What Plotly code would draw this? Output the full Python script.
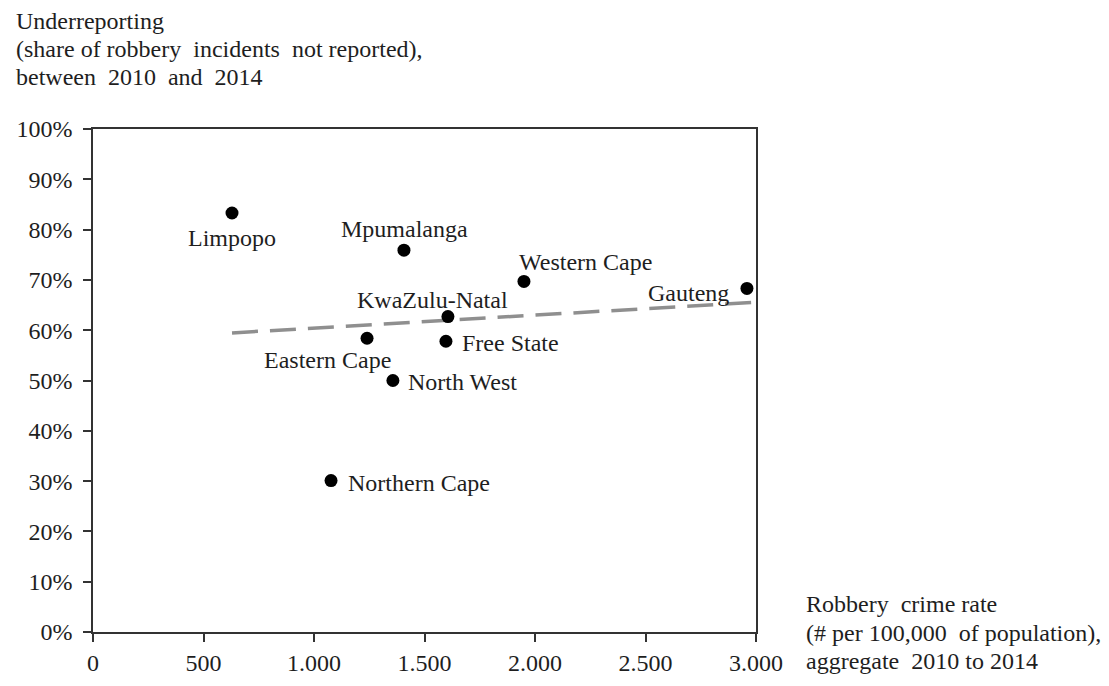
import numpy as np
import plotly.graph_objects as go

provinces = ["Limpopo", "Mpumalanga", "Western Cape", "Gauteng", "KwaZulu-Natal",
             "Eastern Cape", "Free State", "North West", "Northern Cape"]
robbery_rate = [629, 1407, 1950, 2959, 1606, 1240, 1597, 1357, 1077]
underreporting = [0.833, 0.759, 0.697, 0.683, 0.627, 0.584, 0.578, 0.500, 0.301]

x_ticks = [0, 500, 1000, 1500, 2000, 2500, 3000]
x_tick_labels = ["0", "500", "1.000", "1.500", "2.000", "2.500", "3.000"]
y_ticks = [0, 0.1, 0.2, 0.3, 0.4, 0.5, 0.6, 0.7, 0.8, 0.9, 1.0]
y_tick_labels = ["0%", "10%", "20%", "30%", "40%", "50%", "60%", "70%", "80%", "90%", "100%"]

y_title_lines = ["Underreporting",
                 "(share of robbery  incidents  not reported),",
                 "between  2010  and  2014"]
x_title_lines = ["Robbery  crime rate",
                 "(# per 100,000  of population),",
                 "aggregate  2010 to 2014"]

FONT = "Liberation Serif"
TXT = "#1e1e1e"
SIZE = 24

# label placement: (xanchor, yanchor, xshift, yshift)
label_pos = {
    "Limpopo": ("center", "top", 0, -10),
    "Mpumalanga": ("center", "bottom", 1, 6),
    "Western Cape": ("left", "bottom", -7, 4),
    "Gauteng": ("right", "middle", -16, -5),
    "KwaZulu-Natal": ("center", "bottom", -15, 2),
    "Eastern Cape": ("center", "top", -40, -7),
    "Free State": ("left", "middle", 14, -2),
    "North West": ("left", "middle", 13, -1),
    "Northern Cape": ("left", "middle", 15, -2),
}

fig = go.Figure()

# linear trend
coef = np.polyfit(robbery_rate, underreporting, 1)
tx = np.array([min(robbery_rate), 3000])
fig.add_trace(go.Scatter(
    x=tx, y=np.polyval(coef, tx), mode="lines",
    line=dict(color="#8f8f8f", width=3.5, dash="26px,12px"),
    hoverinfo="skip", showlegend=False))

fig.add_trace(go.Scatter(
    x=robbery_rate, y=underreporting, mode="markers",
    marker=dict(color="black", size=13),
    text=provinces, showlegend=False))

for name, xv, yv in zip(provinces, robbery_rate, underreporting):
    xa, ya, xs, ys = label_pos[name]
    fig.add_annotation(x=xv, y=yv, xref="x", yref="y", text=name, showarrow=False,
                       xanchor=xa, yanchor=ya, xshift=xs, yshift=ys,
                       font=dict(family=FONT, size=SIZE, color=TXT))

for line, yp in zip(y_title_lines, [1.214, 1.159, 1.104]):
    fig.add_annotation(xref="paper", yref="paper", x=-0.119, y=yp, xanchor="left", yanchor="middle",
                       showarrow=False, text=line, font=dict(family=FONT, size=SIZE, color=TXT))
for line, yp in zip(x_title_lines, [0.055, -0.002, -0.058]):
    fig.add_annotation(xref="paper", yref="paper", x=1.072, y=yp, xanchor="left", yanchor="middle",
                       showarrow=False, text=line, font=dict(family=FONT, size=SIZE, color=TXT))

fig.update_layout(
    width=1109, height=686,
    margin=dict(l=85, r=361, t=121, b=62),
    paper_bgcolor="white", plot_bgcolor="white",
    font=dict(family=FONT, size=SIZE, color=TXT),
    xaxis=dict(range=[0, 3000], tickvals=x_ticks, ticktext=x_tick_labels, automargin=False,
               showgrid=False, zeroline=False, showline=True, linecolor="#333", linewidth=1.5,
               mirror=True, ticks="outside", ticklen=8, tickcolor="#333", tickwidth=1.5,
               ticklabelstandoff=0, tickfont=dict(family=FONT, size=SIZE, color=TXT)),
    yaxis=dict(range=[0, 1.0], tickvals=y_ticks, ticktext=y_tick_labels, automargin=False,
               showgrid=False, zeroline=False, showline=True, linecolor="#333", linewidth=1.5,
               mirror=True, ticks="outside", ticklen=8, tickcolor="#333", tickwidth=1.5,
               ticklabelstandoff=6, tickfont=dict(family=FONT, size=SIZE, color=TXT)),
)

fig.write_html("out.html")
